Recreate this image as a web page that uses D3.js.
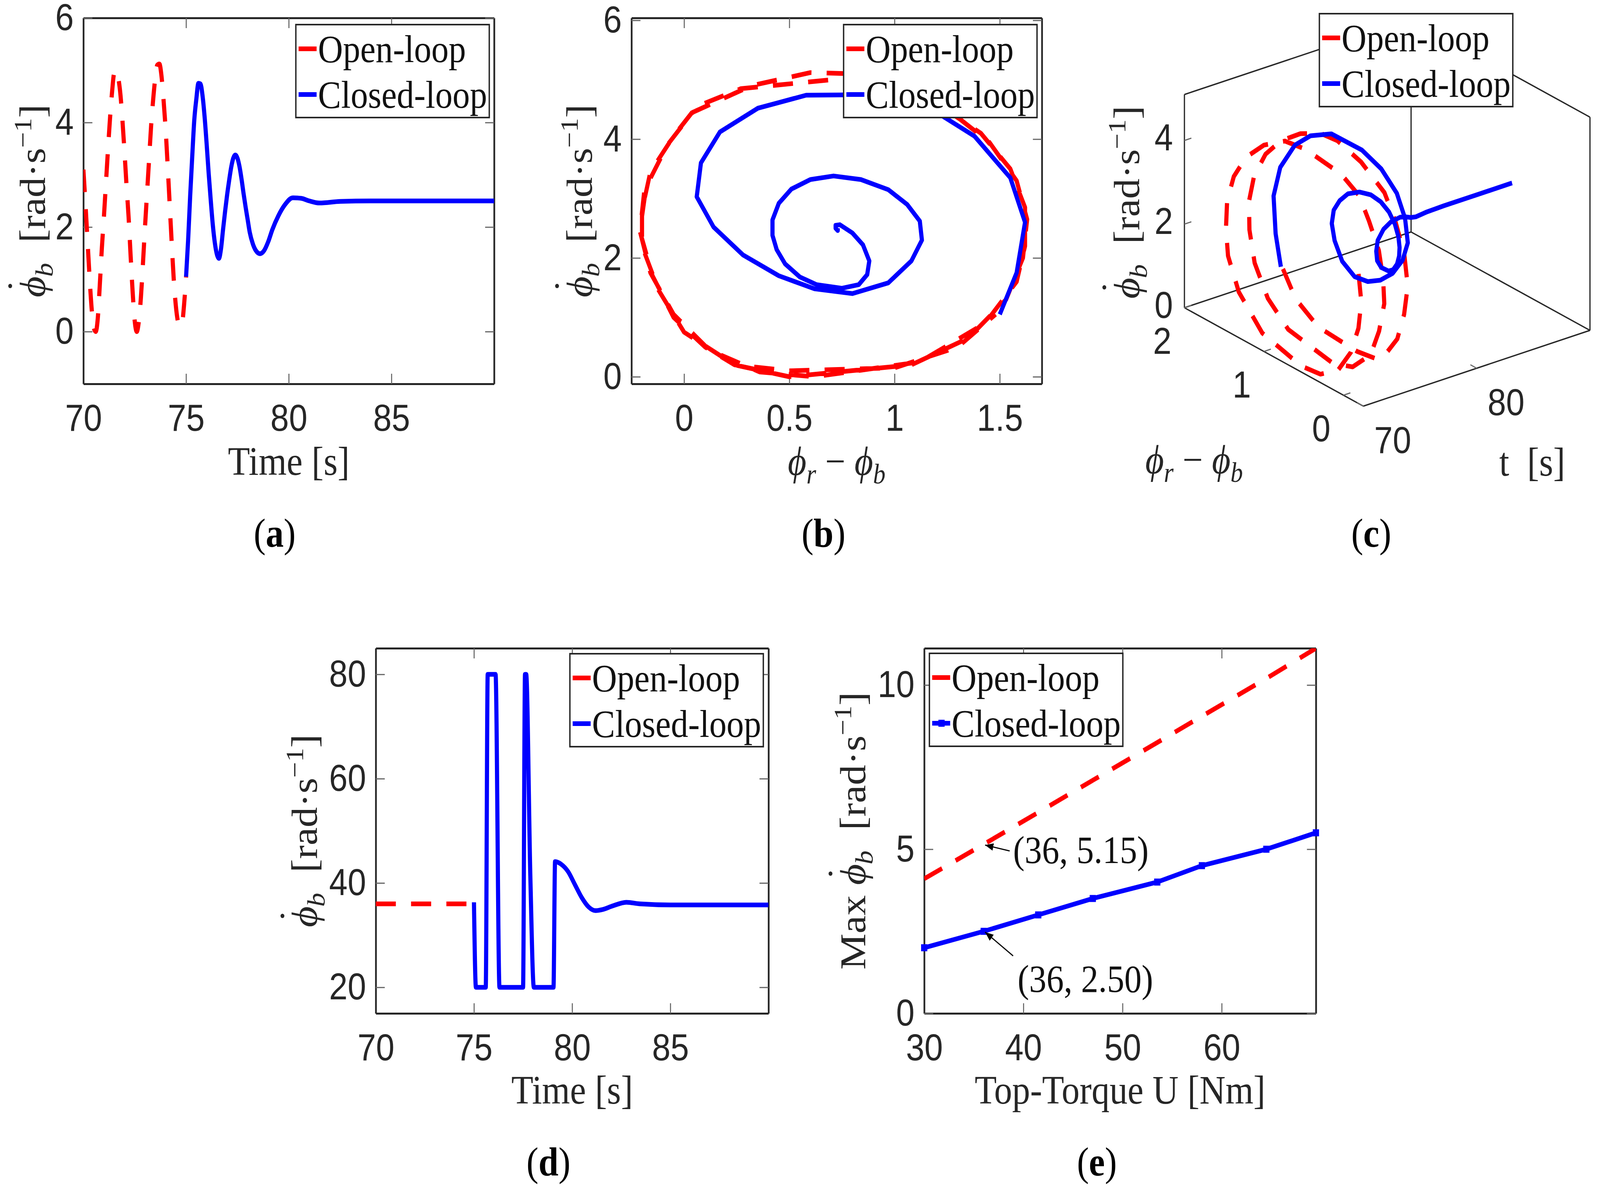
<!DOCTYPE html>
<html>
<head>
<meta charset="utf-8">
<script src="https://cdn.jsdelivr.net/npm/d3@7"></script>
<style>
  html, body { margin: 0; padding: 0; background: #fff; overflow: hidden; }
  svg { display: block; width: 100vw; height: 100vh; }
</style>
</head>
<body>
<div class="canvas"></div>
<script>
// ---------- data ----------
const legendNames = ['Open-loop', 'Closed-loop'];

// open-loop run, 70 - 75 s (panels a, b, c)
const openTime = [70.0, 70.1, 70.2, 70.3, 70.4, 70.5, 70.6, 70.7, 70.8, 70.9,
  71.0, 71.1, 71.2, 71.3, 71.4, 71.5, 71.6, 71.7, 71.8, 71.9,
  72.0, 72.1, 72.2, 72.3, 72.4, 72.5, 72.6, 72.7, 72.8, 72.9,
  73.0, 73.1, 73.2, 73.3, 73.4, 73.5, 73.6, 73.7, 73.8, 73.9,
  74.0, 74.1, 74.2, 74.3, 74.4, 74.5, 74.6, 74.7, 74.8, 74.9, 75.0];
const openPhiDot = [3.10, 2.45, 1.75, 1.05, 0.45, 0.08, 0.00, 0.25, 0.90, 1.60,
  2.20, 2.85, 3.50, 4.10, 4.60, 4.95, 5.00, 4.85, 4.55, 4.05,
  3.45, 2.80, 2.20, 1.45, 0.75, 0.20, 0.00, 0.20, 0.65, 1.30,
  2.00, 2.65, 3.30, 3.95, 4.45, 4.85, 5.10, 5.12, 4.90, 4.45,
  3.90, 3.20, 2.45, 1.70, 1.00, 0.50, 0.20, 0.10, 0.15, 0.50, 1.05];
const openPhiDiff = [-0.19, -0.21, -0.16, -0.05, 0.12, 0.36, 0.62, 1.12, 1.43, 1.58,
  1.62, 1.62, 1.55, 1.41, 1.20, 0.95, 0.70, 0.27, 0.06, -0.05,
  -0.16, -0.20, -0.20, -0.12, 0.00, 0.24, 0.50, 1.08, 1.35, 1.53,
  1.61, 1.63, 1.58, 1.45, 1.27, 1.04, 0.80, 0.60, 0.32, 0.04,
  -0.08, -0.18, -0.21, -0.15, -0.05, 0.10, 0.24, 0.50, 1.00, 1.30, 1.48];

// closed-loop run, 75 - 90 s (panels a, b, c)
const closedTime = [75.0, 75.1, 75.2, 75.3, 75.4, 75.5, 75.6, 75.7, 75.8, 75.9,
  76.0, 76.1, 76.2, 76.3, 76.4, 76.5, 76.6, 76.7, 76.8, 76.9,
  77.0, 77.1, 77.2, 77.3, 77.4, 77.5, 77.6, 77.7, 77.8, 77.9,
  78.0, 78.1, 78.25, 78.4, 78.6, 78.8, 79.0, 79.2, 79.5, 79.8,
  80.2, 80.6, 81.0, 81.5, 82.5, 84.0, 87.0, 90.0];
const closedPhiDot = [1.05, 1.75, 2.60, 3.35, 4.05, 4.45, 4.75, 4.74, 4.52, 4.12,
  3.60, 3.03, 2.52, 2.05, 1.70, 1.48, 1.40, 1.58, 1.95, 2.30,
  2.62, 2.90, 3.15, 3.32, 3.38, 3.32, 3.16, 2.92, 2.64, 2.38,
  2.14, 1.90, 1.68, 1.55, 1.49, 1.55, 1.72, 1.95, 2.22, 2.42,
  2.56, 2.55, 2.50, 2.46, 2.49, 2.50, 2.50, 2.50];
const closedPhiDiff = [1.50, 1.58, 1.62, 1.55, 1.38, 1.20, 0.95, 0.58, 0.35, 0.17,
  0.08, 0.06, 0.14, 0.28, 0.45, 0.62, 0.80, 0.97, 1.08, 1.13,
  1.12, 1.06, 0.97, 0.84, 0.71, 0.60, 0.51, 0.45, 0.42, 0.42,
  0.44, 0.48, 0.55, 0.63, 0.75, 0.83, 0.87, 0.88, 0.85, 0.80,
  0.74, 0.72, 0.72, 0.73, 0.73, 0.73, 0.73, 0.73];

// panel d: bang-bang controller
const holdTime = [70, 75];
const holdPhiDot = [36, 36];
const ctrlTime = [75.0, 75.1, 75.6, 75.7, 76.1, 76.3, 77.5, 77.6, 77.66, 77.87,
  78.05, 79.05, 79.13, 79.44, 79.79, 80.14, 80.49, 80.84, 81.19, 81.54,
  82.06, 82.76, 83.46, 85.0, 90.0];
const ctrlPhiDot = [36.3, 20, 20, 80, 80, 20, 20, 80, 80, 41.4,
  20, 20, 44.1, 43.6, 42.2, 39.7, 37.2, 35.4, 34.7, 34.9,
  35.6, 36.3, 36.0, 35.8, 35.8];

// panel e: peak rate against top torque
const torque = [30, 36, 41.5, 47, 53.5, 58, 64.5, 69.5];
const maxOpen = [4.1, 5.15, 6.12, 7.1, 8.25, 9.05, 10.2, 11.12];
const maxClosed = [2.0, 2.5, 3.0, 3.5, 4.0, 4.5, 5.0, 5.5];

// ticks
const timeTicks = [70, 75, 80, 85];
const rateTicksA = [0, 2, 4, 6];
const phaseTicks = [0, 0.5, 1, 1.5];
const rateTicksD = [20, 40, 60, 80];
const torqueTicks = [30, 40, 50, 60];
const maxTicks = [0, 5, 10];
const cTimeTicks = [70, 80];
const cPhaseTicks = [0, 1, 2];
const cRateTicks = [0, 2, 4];

// ---------- look ----------
const INK = '#262626';
const RED = '#ff0000', BLUE = '#0000ff';
const seriesColors = [RED, BLUE];
const DASH = '58,44';
const LW = 12;
const SANS = "'Liberation Sans', Arial, Helvetica, sans-serif";
const SERIF = "'Liberation Serif', 'Times New Roman', serif";
const fmt = d3.format('~g');

// drawing space is the 4624 x 3060 figure, stretched onto whatever the window is
const svg = d3.select('.canvas').append('svg')
  .attr('viewBox', '0 0 4624 3060')
  .attr('preserveAspectRatio', 'none');
svg.append('rect').attr('width', 4624).attr('height', 3060).attr('fill', '#fff');

const defs = svg.append('defs');
defs.append('marker').attr('id', 'arrow')
  .attr('viewBox', '0 0 10 10').attr('refX', 10).attr('refY', 5)
  .attr('markerWidth', 24).attr('markerHeight', 24)
  .attr('markerUnits', 'userSpaceOnUse').attr('orient', 'auto')
  .append('path').attr('d', 'M0,1 L10,5 L0,9 Z').attr('fill', '#000');

// frame + inward ticks on four sides
function axes2d(box, x, y, xTicks, yTicks, id) {
  const g = svg.append('g');
  const style = sel => {
    sel.attr('font-size', 96).attr('font-family', SANS);
    sel.select('.domain').attr('stroke', INK).attr('stroke-width', 5);
    sel.selectAll('.tick line').attr('stroke', '#666').attr('stroke-width', 3);
    sel.selectAll('.tick text').attr('fill', INK);
  };
  g.append('g').attr('transform', `translate(0,${box.b})`)
    .call(d3.axisBottom(x).tickValues(xTicks).tickFormat(fmt).tickSize(-26).tickSizeOuter(0).tickPadding(52)).call(style);
  g.append('g').attr('transform', `translate(0,${box.t})`)
    .call(d3.axisTop(x).tickValues(xTicks).tickSize(-26).tickSizeOuter(0).tickFormat('')).call(style);
  g.append('g').attr('transform', `translate(${box.l},0)`)
    .call(d3.axisLeft(y).tickValues(yTicks).tickFormat(fmt).tickSize(-26).tickSizeOuter(0).tickPadding(28)).call(style);
  g.append('g').attr('transform', `translate(${box.r},0)`)
    .call(d3.axisRight(y).tickValues(yTicks).tickSize(-26).tickSizeOuter(0).tickFormat('')).call(style);
  defs.append('clipPath').attr('id', id)
    .append('rect').attr('x', box.l).attr('y', box.t)
    .attr('width', box.r - box.l).attr('height', box.b - box.t);
}

function series(pts, line, color, dashed, clip) {
  return svg.append('path').datum(pts)
    .attr('d', line)
    .attr('fill', 'none')
    .attr('stroke', color)
    .attr('stroke-width', LW)
    .attr('stroke-linejoin', 'round')
    .attr('stroke-dasharray', dashed ? DASH : null)
    .attr('clip-path', clip ? `url(#${clip})` : null);
}

function legend(x0, y0, marker) {
  const g = svg.append('g');
  g.append('rect').attr('x', x0).attr('y', y0).attr('width', 559).attr('height', 238)
    .attr('fill', '#fff').attr('stroke', INK).attr('stroke-width', 4);
  legendNames.forEach((name, i) => {
    const cy = y0 + 62 + i * 117;
    g.append('line').attr('x1', x0 + 8).attr('x2', x0 + 60).attr('y1', cy).attr('y2', cy)
      .attr('stroke', seriesColors[i]).attr('stroke-width', LW);
    if (marker && i === 1) {
      g.append('rect').attr('x', x0 + 26).attr('y', cy - 9).attr('width', 18).attr('height', 18)
        .attr('fill', BLUE);
    }
    g.append('text').attr('x', x0 + 64).attr('y', cy + 34).text(name)
      .attr('fill', '#111').style('font-family', SERIF).style('font-size', '100px');
  });
}

function texText(x, y, rotate) {
  return svg.append('text')
    .attr('transform', `translate(${x},${y})` + (rotate ? ' rotate(-90)' : ''))
    .attr('text-anchor', 'middle').attr('fill', INK)
    .style('font-family', SERIF).style('font-size', '104px');
}

// phi with a dot over it, then subscript b
function phiDotB(t) {
  t.append('tspan').style('font-style', 'italic').text('\u03d5');
  t.append('tspan').attr('dx', -42).attr('dy', -36).text('\u02d9');
  t.append('tspan').attr('dx', 6).attr('dy', 36 + 22)
    .style('font-size', '72px').style('font-style', 'italic').text('b');
}

function rateLabel(x, y, prefix) {
  const t = texText(x, y, true);
  if (prefix) t.append('tspan').text(prefix + '\u00a0');
  phiDotB(t);
  t.append('tspan').attr('dy', -22).text('\u00a0\u00a0[rad\u00b7s');
  t.append('tspan').attr('dy', -40).style('font-size', '72px').text('\u22121');
  t.append('tspan').attr('dy', 40).text(']');
}

function phaseLabel(x, y) {
  const t = texText(x, y, false);
  t.append('tspan').style('font-style', 'italic').text('\u03d5');
  t.append('tspan').attr('dy', 22).style('font-size', '72px').style('font-style', 'italic').text('r');
  t.append('tspan').attr('dy', -22).text('\u00a0\u2212\u00a0');
  t.append('tspan').style('font-style', 'italic').text('\u03d5');
  t.append('tspan').attr('dy', 22).style('font-size', '72px').style('font-style', 'italic').text('b');
}

function panelTag(x, y, s) {
  const t = svg.append('text').attr('x', x).attr('y', y).attr('text-anchor', 'middle')
    .attr('fill', '#000').style('font-family', SERIF).style('font-size', '104px');
  t.append('tspan').text('(');
  t.append('tspan').style('font-weight', 'bold').text(s);
  t.append('tspan').text(')');
}

const openPts = openTime.map((t, i) => ({ t, v: openPhiDot[i], p: openPhiDiff[i] }));
const closedPts = closedTime.map((t, i) => ({ t, v: closedPhiDot[i], p: closedPhiDiff[i] }));

// ---------- (a) time response ----------
const boxA = { l: 241, r: 1428, t: 46, b: 983 };
const xA = d3.scaleLinear().domain([70, 90]).range([boxA.l, boxA.r]);
const yA = d3.scaleLinear().domain([-1, 6]).range([boxA.b, boxA.t]);
axes2d(boxA, xA, yA, timeTicks, rateTicksA, 'clipA');
const lineA = d3.line().x(d => xA(d.t)).y(d => yA(d.v)).curve(d3.curveMonotoneX);
series(openPts, lineA, RED, true, 'clipA');
series(closedPts, lineA, BLUE, false, 'clipA');
legend(855, 63, false);
rateLabel(130, (boxA.t + boxA.b) / 2);
texText((boxA.l + boxA.r) / 2, 1216).text('Time [s]');
panelTag(794, 1400, 'a');

// ---------- (b) phase portrait ----------
const boxB = { l: 1825, r: 3011, t: 46, b: 983 };
const xB = d3.scaleLinear().domain([-0.25, 1.7]).range([boxB.l, boxB.r]);
const yB = d3.scaleLinear().domain([-0.12, 6.04]).range([boxB.b, boxB.t]);
axes2d(boxB, xB, yB, phaseTicks, rateTicksA, 'clipB');
const lineB = d3.line().x(d => xB(d.p)).y(d => yB(d.v));
series(openPts, lineB, RED, true, 'clipB');
series(closedPts, lineB, BLUE, false, 'clipB');
legend(2438, 63, false);
rateLabel(1710, (boxB.t + boxB.b) / 2);
phaseLabel((boxB.l + boxB.r) / 2, 1216);
panelTag(2380, 1400, 'b');

// ---------- (c) 3-D trajectory ----------
const cT = d3.scaleLinear().domain([70, 90]).range([0, 1]);
const cP = d3.scaleLinear().domain([-0.25, 2]).range([0, 1]);
const cZ = d3.scaleLinear().domain([0, 5.1]).range([0, 1]);
const O3 = [3940, 1040], T3 = [655, -194], P3 = [-517, -252], Z3 = [0, -546];
function proj(t, p, z) {
  const a = cT(t), b = cP(p), c = cZ(z);
  return [O3[0] + a * T3[0] + b * P3[0] + c * Z3[0],
          O3[1] + a * T3[1] + b * P3[1] + c * Z3[1]];
}
const [t0, t1] = cT.domain(), [p0, p1] = cP.domain(), [z0, z1] = cZ.domain();
const edges = [
  [[t0, p1, z0], [t0, p1, z1]], [[t0, p1, z1], [t1, p1, z1]], [[t1, p1, z1], [t1, p0, z1]],
  [[t1, p0, z0], [t1, p0, z1]], [[t1, p1, z0], [t1, p1, z1]], [[t0, p1, z0], [t1, p1, z0]],
  [[t1, p1, z0], [t1, p0, z0]], [[t0, p1, z0], [t0, p0, z0]], [[t0, p0, z0], [t1, p0, z0]]
];
const gC = svg.append('g');
edges.forEach(([a, b]) => {
  const A = proj(...a), B = proj(...b);
  gC.append('line').attr('x1', A[0]).attr('y1', A[1]).attr('x2', B[0]).attr('y2', B[1])
    .attr('stroke', INK).attr('stroke-width', 3.5);
});
const tickStyle = sel => sel.attr('fill', INK).style('font-family', SANS).style('font-size', '96px');
cRateTicks.forEach(v => {
  const [x, y] = proj(t0, p1, v);
  gC.append('line').attr('x1', x).attr('y1', y).attr('x2', x + 20).attr('y2', y - 6)
    .attr('stroke', '#666').attr('stroke-width', 3);
  gC.append('text').attr('x', x - 33).attr('y', y - 8).attr('dy', '0.35em')
    .attr('text-anchor', 'end').text(v).call(tickStyle);
});
cPhaseTicks.forEach(v => {
  const [x, y] = proj(t0, v, z0);
  gC.append('line').attr('x1', x).attr('y1', y).attr('x2', x + 20).attr('y2', y - 6)
    .attr('stroke', '#666').attr('stroke-width', 3);
  gC.append('text').attr('x', x - 64).attr('y', y + 84).attr('dy', '0.35em')
    .attr('text-anchor', 'middle').text(v).call(tickStyle);
});
cTimeTicks.forEach(v => {
  const [x, y] = proj(v, p0, z0);
  gC.append('line').attr('x1', x).attr('y1', y).attr('x2', x - 18).attr('y2', y - 9)
    .attr('stroke', '#666').attr('stroke-width', 3);
  gC.append('text').attr('x', x + 85).attr('y', y + 86).attr('dy', '0.35em')
    .attr('text-anchor', 'middle').text(v).call(tickStyle);
});
const lineC = d3.line().x(d => proj(d.t, d.p, d.v)[0]).y(d => proj(d.t, d.p, d.v)[1]);
series(openPts, lineC, RED, true, null);
series(closedPts, lineC, BLUE, false, null);
legend(3813, 35, false);
rateLabel(3292, 518);
phaseLabel(3451, 1212);
texText(4428, 1218).text('t\u00a0\u00a0[s]');
panelTag(3963, 1400, 'c');

// ---------- (d) controller output ----------
const boxD = { l: 1086, r: 2221, t: 1660, b: 2595 };
const xD = d3.scaleLinear().domain([70, 90]).range([boxD.l, boxD.r]);
const yD = d3.scaleLinear().domain([15, 85]).range([boxD.b, boxD.t]);
axes2d(boxD, xD, yD, timeTicks, rateTicksD, 'clipD');
const lineD = d3.line().x(d => xD(d.t)).y(d => yD(d.v)).curve(d3.curveMonotoneX);
series(holdTime.map((t, i) => ({ t, v: holdPhiDot[i] })), lineD, RED, true, 'clipD');
series(ctrlTime.map((t, i) => ({ t, v: ctrlPhiDot[i] })), lineD, BLUE, false, 'clipD');
legend(1647, 1674, false);
rateLabel(916, (boxD.t + boxD.b) / 2);
texText((boxD.l + boxD.r) / 2, 2826).text('Time [s]');
panelTag(1585, 3010, 'd');

// ---------- (e) peak rate vs torque ----------
const boxE = { l: 2671, r: 3803, t: 1660, b: 2595 };
const xE = d3.scaleLinear().domain(d3.extent(torque)).range([boxE.l, boxE.r]);
const yE = d3.scaleLinear().domain([0, d3.max(maxOpen)]).range([boxE.b, boxE.t]);
axes2d(boxE, xE, yE, torqueTicks, maxTicks, 'clipE');
const lineE = d3.line().x(d => xE(d.u)).y(d => yE(d.v));
series(torque.map((u, i) => ({ u, v: maxOpen[i] })), lineE, RED, true, 'clipE');
const closedE = torque.map((u, i) => ({ u, v: maxClosed[i] }));
series(closedE, lineE, BLUE, false, 'clipE');
svg.append('g').selectAll('rect').data(closedE).join('rect')
  .attr('x', d => xE(d.u) - 9).attr('y', d => yE(d.v) - 9)
  .attr('width', 18).attr('height', 18).attr('fill', BLUE);
legend(2686, 1673, true);

// data tips at U = 36
const tipU = torque[1];
const tips = [
  { v: maxOpen[1], tx: 85, ty: 13, ax: 75, ay: 17 },
  { v: maxClosed[1], tx: 98, ty: 120, ax: 85, ay: 63 }
];
tips.forEach(d => {
  const px = xE(tipU), py = yE(d.v);
  svg.append('line').attr('x1', px + d.ax).attr('y1', py + d.ay).attr('x2', px + 4).attr('y2', py + 2)
    .attr('stroke', '#000').attr('stroke-width', 3).attr('marker-end', 'url(#arrow)');
  svg.append('text').attr('x', px + d.tx).attr('y', py + d.ty).attr('dy', '0.35em')
    .attr('fill', '#111').style('font-family', SERIF).style('font-size', '100px')
    .text(`(${tipU}, ${d.v.toFixed(2)})`);
});

rateLabel(2500, (boxE.t + boxE.b) / 2, 'Max');
texText((boxE.l + boxE.r) / 2, 2826).text('Top-Torque U [Nm]');
panelTag(3170, 3010, 'e');
</script>
</body>
</html>
